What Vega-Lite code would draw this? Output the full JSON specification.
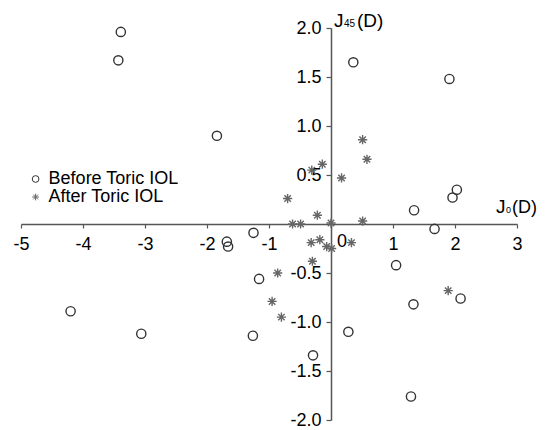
{
  "$schema": "https://vega.github.io/schema/vega-lite/v6.json",
  "width": 496,
  "height": 392,
  "autosize": {"type": "none"},
  "padding": {"left": 21, "top": 28, "right": 28, "bottom": 10},
  "background": "white",
  "config": {"view": {"stroke": null}, "font": "Liberation Sans"},
  "layer": [
    {
      "data": {
        "values": [
          {"J0": -3.39, "J45": 1.96, "group": "Before Toric IOL"},
          {"J0": -3.43, "J45": 1.67, "group": "Before Toric IOL"},
          {"J0": -1.84, "J45": 0.90, "group": "Before Toric IOL"},
          {"J0": 0.36, "J45": 1.65, "group": "Before Toric IOL"},
          {"J0": 1.91, "J45": 1.48, "group": "Before Toric IOL"},
          {"J0": 2.03, "J45": 0.35, "group": "Before Toric IOL"},
          {"J0": 1.96, "J45": 0.27, "group": "Before Toric IOL"},
          {"J0": 1.34, "J45": 0.14, "group": "Before Toric IOL"},
          {"J0": 1.67, "J45": -0.05, "group": "Before Toric IOL"},
          {"J0": 1.05, "J45": -0.42, "group": "Before Toric IOL"},
          {"J0": 1.33, "J45": -0.82, "group": "Before Toric IOL"},
          {"J0": 2.09, "J45": -0.76, "group": "Before Toric IOL"},
          {"J0": 0.28, "J45": -1.10, "group": "Before Toric IOL"},
          {"J0": -0.29, "J45": -1.34, "group": "Before Toric IOL"},
          {"J0": 1.29, "J45": -1.76, "group": "Before Toric IOL"},
          {"J0": -1.68, "J45": -0.18, "group": "Before Toric IOL"},
          {"J0": -1.66, "J45": -0.23, "group": "Before Toric IOL"},
          {"J0": -1.25, "J45": -0.09, "group": "Before Toric IOL"},
          {"J0": -1.16, "J45": -0.56, "group": "Before Toric IOL"},
          {"J0": -4.20, "J45": -0.89, "group": "Before Toric IOL"},
          {"J0": -3.06, "J45": -1.12, "group": "Before Toric IOL"},
          {"J0": -1.26, "J45": -1.14, "group": "Before Toric IOL"},
          {"J0": 0.51, "J45": 0.86, "group": "After Toric IOL"},
          {"J0": 0.58, "J45": 0.66, "group": "After Toric IOL"},
          {"J0": -0.14, "J45": 0.61, "group": "After Toric IOL"},
          {"J0": -0.31, "J45": 0.55, "group": "After Toric IOL"},
          {"J0": 0.17, "J45": 0.47, "group": "After Toric IOL"},
          {"J0": -0.70, "J45": 0.26, "group": "After Toric IOL"},
          {"J0": -0.22, "J45": 0.09, "group": "After Toric IOL"},
          {"J0": -0.62, "J45": 0.0, "group": "After Toric IOL"},
          {"J0": -0.49, "J45": 0.0, "group": "After Toric IOL"},
          {"J0": 0.0, "J45": 0.01, "group": "After Toric IOL"},
          {"J0": 0.51, "J45": 0.03, "group": "After Toric IOL"},
          {"J0": -0.32, "J45": -0.19, "group": "After Toric IOL"},
          {"J0": -0.18, "J45": -0.16, "group": "After Toric IOL"},
          {"J0": -0.07, "J45": -0.23, "group": "After Toric IOL"},
          {"J0": 0.01, "J45": -0.25, "group": "After Toric IOL"},
          {"J0": 0.33, "J45": -0.19, "group": "After Toric IOL"},
          {"J0": -0.30, "J45": -0.38, "group": "After Toric IOL"},
          {"J0": -0.86, "J45": -0.50, "group": "After Toric IOL"},
          {"J0": -0.95, "J45": -0.79, "group": "After Toric IOL"},
          {"J0": -0.80, "J45": -0.95, "group": "After Toric IOL"},
          {"J0": 1.89, "J45": -0.68, "group": "After Toric IOL"}
        ]
      },
      "mark": {"type": "point", "filled": false, "size": 85, "strokeWidth": 1.4, "opacity": 1},
      "encoding": {
        "x": {
          "field": "J0", "type": "quantitative",
          "scale": {"domain": [-5, 3], "nice": false, "zero": false},
          "axis": {
            "orient": "bottom", "offset": -196, "title": null, "grid": false,
            "values": [-5, -4, -3, -2, -1, 0, 1, 2, 3],
            "labelExpr": "datum.value == 0 ? '' : (datum.value < 0 ? '-' : '') + format(abs(datum.value), 'd')",
            "labelFlush": false, "labelOverlap": false,
            "domainColor": "#555555", "domainWidth": 1.5,
            "tickColor": "#555555", "tickWidth": 1.2, "tickSize": 4,
            "labelFont": "Liberation Sans", "labelFontSize": 18, "labelColor": "#000000", "labelPadding": 7
          }
        },
        "y": {
          "field": "J45", "type": "quantitative",
          "scale": {"domain": [-2, 2], "nice": false, "zero": false},
          "axis": {
            "orient": "left", "offset": -310, "title": null, "grid": false,
            "values": [-2, -1.5, -1, -0.5, 0.5, 1, 1.5, 2],
            "labelExpr": "(datum.value < 0 ? '-' : '') + format(abs(datum.value), '.1f')",
            "labelFlush": false, "labelOverlap": false,
            "domainColor": "#555555", "domainWidth": 1.5,
            "tickColor": "#555555", "tickWidth": 1.2, "tickSize": 5,
            "labelFont": "Liberation Sans", "labelFontSize": 18, "labelColor": "#000000", "labelPadding": 5
          }
        },
        "shape": {
          "field": "group", "type": "nominal",
          "scale": {"domain": ["Before Toric IOL", "After Toric IOL"], "range": ["circle", "M0,-1L0,1M-1,0L1,0M-0.7,-0.7L0.7,0.7M-0.7,0.7L0.7,-0.7"]},
          "legend": {"title": null, "orient": "none", "legendX": 5.6, "legendY": 142, "padding": 0, "rowPadding": 0, "symbolSize": 45, "symbolStrokeWidth": 1, "labelFont": "Liberation Sans", "labelFontSize": 18, "labelColor": "#000000", "labelOffset": 4, "labelLimit": 300}
        },
        "stroke": {
          "field": "group", "type": "nominal",
          "scale": {"domain": ["Before Toric IOL", "After Toric IOL"], "range": ["#333333", "#666666"]},
          "legend": {"title": null, "orient": "none", "legendX": 5.6, "legendY": 142, "padding": 0, "rowPadding": 0, "symbolSize": 45, "symbolStrokeWidth": 1, "labelFont": "Liberation Sans", "labelFontSize": 18, "labelColor": "#000000", "labelOffset": 4, "labelLimit": 300}
        }
      }
    },
    {
      "data": {"values": [{"J0": 0, "J45": 0, "t": "0"}]},
      "mark": {"type": "text", "dx": 11, "dy": 9, "baseline": "top", "align": "center", "fontSize": 18, "font": "Liberation Sans", "color": "#000000"},
      "encoding": {"x": {"field": "J0", "type": "quantitative"}, "y": {"field": "J45", "type": "quantitative"}, "text": {"field": "t"}}
    },
    {
      "data": {"values": [{"J0": 0, "J45": 2, "t": "J"}]},
      "mark": {"type": "text", "dx": 3, "dy": -1, "baseline": "alphabetic", "align": "left", "fontSize": 19, "font": "Liberation Sans", "color": "#000000"},
      "encoding": {"x": {"field": "J0", "type": "quantitative"}, "y": {"field": "J45", "type": "quantitative"}, "text": {"field": "t"}}
    },
    {
      "data": {"values": [{"J0": 0, "J45": 2, "t": "45"}]},
      "mark": {"type": "text", "dx": 13, "dy": -1, "baseline": "alphabetic", "align": "left", "fontSize": 10, "font": "Liberation Sans", "color": "#000000"},
      "encoding": {"x": {"field": "J0", "type": "quantitative"}, "y": {"field": "J45", "type": "quantitative"}, "text": {"field": "t"}}
    },
    {
      "data": {"values": [{"J0": 0, "J45": 2, "t": "(D)"}]},
      "mark": {"type": "text", "dx": 26, "dy": -1, "baseline": "alphabetic", "align": "left", "fontSize": 19, "font": "Liberation Sans", "color": "#000000"},
      "encoding": {"x": {"field": "J0", "type": "quantitative"}, "y": {"field": "J45", "type": "quantitative"}, "text": {"field": "t"}}
    },
    {
      "data": {"values": [{"J0": 3, "J45": 0, "t": "J"}]},
      "mark": {"type": "text", "dx": -21, "dy": -11, "baseline": "alphabetic", "align": "left", "fontSize": 19, "font": "Liberation Sans", "color": "#000000"},
      "encoding": {"x": {"field": "J0", "type": "quantitative"}, "y": {"field": "J45", "type": "quantitative"}, "text": {"field": "t"}}
    },
    {
      "data": {"values": [{"J0": 3, "J45": 0, "t": "0"}]},
      "mark": {"type": "text", "dx": -11, "dy": -11, "baseline": "alphabetic", "align": "left", "fontSize": 9, "font": "Liberation Sans", "color": "#000000"},
      "encoding": {"x": {"field": "J0", "type": "quantitative"}, "y": {"field": "J45", "type": "quantitative"}, "text": {"field": "t"}}
    },
    {
      "data": {"values": [{"J0": 3, "J45": 0, "t": "(D)"}]},
      "mark": {"type": "text", "dx": -5, "dy": -11, "baseline": "alphabetic", "align": "left", "fontSize": 18, "font": "Liberation Sans", "color": "#000000"},
      "encoding": {"x": {"field": "J0", "type": "quantitative"}, "y": {"field": "J45", "type": "quantitative"}, "text": {"field": "t"}}
    }
  ]
}
